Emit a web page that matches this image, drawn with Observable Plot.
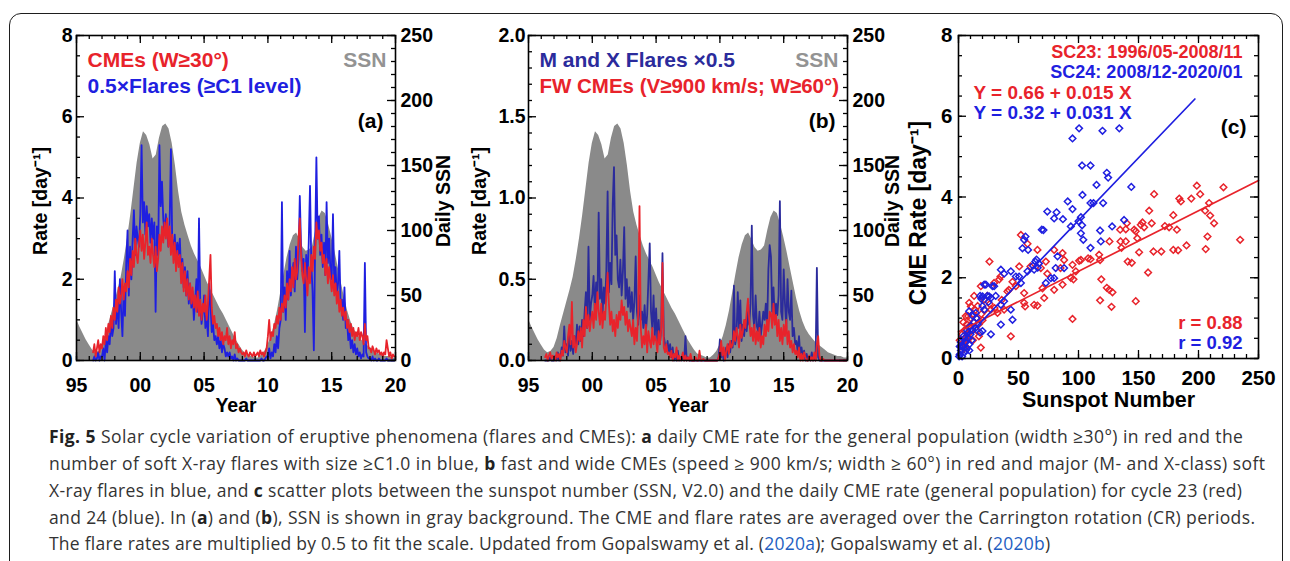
<!DOCTYPE html>
<html><head><meta charset="utf-8">
<script src="https://cdn.jsdelivr.net/npm/d3@7"></script>
<script src="https://cdn.jsdelivr.net/npm/@observablehq/plot@0.6"></script>
<style>
html,body{margin:0;padding:0;background:#fff;}
#fig{position:relative;width:1290px;height:561px;overflow:hidden;background:#fff;}
#border{position:absolute;left:9px;top:13px;width:1274px;height:620px;border:1.6px solid #1e1e1e;border-radius:12px;box-sizing:border-box;}
.panel{position:absolute;top:0;}
.panel svg{overflow:visible;max-width:none;}
.cap{position:absolute;left:49px;white-space:nowrap;font-family:"Open Sans","Noto Sans",sans-serif;font-size:17.5px;line-height:20px;color:#333;}
.cap b{font-weight:700;color:#222;}
.cap .lk{color:#1f5fc2;}
</style></head><body>
<div id="fig"><div id="border"></div>
<div id="pa" class="panel" style="left:0px"></div>
<div id="pb" class="panel" style="left:440px"></div>
<div id="pc" class="panel" style="left:890px"></div>
<div id="caption"></div>
</div>
<script>
// ---------------- DATA ----------------
// Daily sunspot number (SSN, V2.0), smoothed, every 0.25 yr from 1995.0
const ssnStart = 1995.0, ssnStep = 0.25;
const ssn = [
 32,26,21,16, 12,8,6,7, 10,17,27,36, 45,54,64,78, 94,112,132,152,
 167,176,173,166, 155,158,171,180, 182,178,167,150, 130,114,104,96, 88,82,77,72,
 66,60,55,50, 45,40,36,31, 26,21,16,12, 8,5,4,3, 2,2,4,7,
 12,18,27,38, 52,66,79,89, 96,98,93,87, 84,85,88,100, 110,115,113,105,
 95,84,72,60, 48,38,30,24, 20,17,14,12, 10,8,6,5, 4,3,3,2, 2
];
// CR-averaged rates, every 0.1 yr from 1996.3
const rateStart = 1996.3, rateStep = 0.1;
// (a) CME rate, W >= 30 deg
const cmeA = [
 0.2,0.4,0.1,0.3,0.5,0.2,0.4,
 0.3,0.6,0.4,0.8,0.5,0.9,0.7,1.1,0.8,1.3,
 1.0,1.5,1.2,1.8,1.4,1.6,2.0,1.5,1.9,1.7,
 2.2,1.8,2.5,2.1,2.7,2.3,3.0,2.6,2.4,2.9,
 3.2,2.7,3.1,2.5,2.9,3.4,2.6,2.8,2.4,3.0,
 2.6,2.3,2.8,2.2,2.5,3.1,2.7,3.3,2.9,3.4,
 3.0,3.5,2.8,3.3,2.6,3.1,2.4,2.9,2.2,2.7,
 2.3,2.6,1.9,2.4,1.7,2.2,1.6,2.0,1.5,1.9,
 1.4,1.8,1.3,1.6,1.2,1.7,1.1,1.5,1.0,1.4,
 1.2,1.6,1.0,1.4,2.0,2.6,1.3,0.9,1.1,0.8,
 0.9,0.6,0.8,0.5,0.7,0.4,0.6,0.5,0.8,0.4,
 0.6,0.3,0.5,0.4,0.7,0.3,0.4,0.2,0.3,0.2,
 0.15,0.2,0.1,0.25,0.15,0.1,0.2,0.15,0.1,0.2,
 0.1,0.15,0.2,0.1,0.25,0.15,0.2,0.1,0.2,0.3,
 0.6,1.0,0.5,0.7,0.6,0.9,0.8,1.1,0.9,1.3,
 1.0,1.4,1.2,1.6,1.3,1.9,1.5,2.0,1.7,2.3,
 1.8,2.5,2.0,2.2,3.0,3.5,2.6,2.1,1.9,2.4,
 2.0,1.6,2.3,1.9,2.6,2.2,2.8,2.5,3.4,3.0,
 3.2,2.7,2.9,2.4,2.6,2.1,2.5,1.9,2.3,2.0,
 1.7,2.1,1.6,1.9,1.4,1.7,1.2,1.5,1.1,1.3,
 1.0,1.2,0.8,1.0,0.7,0.9,0.6,0.8,0.5,0.7,
 0.6,0.8,0.5,0.7,0.6,0.4,0.9,0.5,0.6,0.3,
 0.3,0.2,0.35,0.25,0.15,0.3,0.2,0.25,0.15,0.2,
 0.1,0.2,0.15,0.5,0.3,0.1,0.2,0.05,0.15,0.1
];
// (a) 0.5 x flare rate (>= C1 level)
const flareA = [
 0.0,0.1,0.0,0.05,0.2,0.0,0.1,
 0.1,0.3,0.0,0.5,0.2,0.6,0.4,1.0,0.6,0.8,
 2.2,0.9,1.5,0.8,2.0,1.2,0.6,1.8,1.1,2.4,
 3.2,1.6,2.8,2.0,3.0,3.7,2.6,3.3,3.0,2.8,
 3.6,5.3,3.4,3.9,3.1,3.8,3.3,3.6,2.9,3.5,
 3.0,3.4,1.2,3.3,2.6,5.3,3.8,4.4,3.5,3.1,
 3.6,3.2,2.8,3.4,5.2,3.0,2.7,3.1,2.5,2.9,
 2.6,3.0,2.1,2.5,1.8,2.3,1.6,2.2,1.4,1.9,
 1.3,1.7,1.0,1.5,2.0,1.2,3.5,1.4,0.9,1.2,
 1.6,0.8,1.1,0.6,1.9,1.4,0.7,0.9,0.5,0.6,
 0.4,0.6,0.3,0.5,0.2,0.4,0.3,0.1,0.2,0.1,
 0.2,0.05,0.1,0.0,0.15,0.0,0.05,0.0,0.0,0.0,
 0,0,0,0.05,0,0,0,0,0,0,
 0,0,0,0,0,0.05,0,0,0.05,0.1,
 0.1,0.3,0.05,0.2,0.1,0.4,0.2,0.6,0.3,0.8,
 1.0,3.9,1.2,1.8,1.0,2.2,1.5,2.7,1.6,2.1,
 2.4,1.7,2.8,2.0,2.5,4.05,2.8,2.2,2.5,0.7,
 2.6,2.0,2.9,4.3,2.4,1.7,0.25,2.8,5.0,3.0,
 3.55,2.6,3.1,2.3,2.9,2.1,3.9,2.4,3.0,2.2,
 2.0,3.6,1.9,2.3,1.6,1.9,2.7,1.3,1.5,1.0,
 1.8,0.8,1.0,0.5,0.7,0.3,0.5,0.2,0.4,0.15,
 0.3,0.1,0.2,0.05,0.15,0.1,2.4,0.2,0.1,0.05,
 0.05,0,0.1,0,0.05,0,0,0.05,0,0,
 0,0,0,0.05,0,0,0,0,0,0
];
// (b) 0.5 x M- and X-class flare rate
const flareB = [
 0,0,0,0,0.02,0,0,
 0,0.03,0,0.05,0,0.02,0.08,0.03,0.21,0.05,
 0.1,0.03,0.18,0.06,0.12,0.04,0.15,0.08,0.22,0.1,
 0.21,0.12,0.25,0.15,0.3,0.42,0.2,0.7,0.25,0.35,
 0.4,0.52,0.3,0.48,0.35,0.91,0.38,0.5,0.28,0.45,
 0.35,0.55,1.04,0.42,0.6,0.47,0.96,1.19,0.65,0.77,
 0.5,0.45,0.62,0.4,0.55,0.82,0.38,0.5,0.33,0.45,
 0.3,0.42,0.25,0.36,0.64,0.3,0.22,0.4,0.25,0.3,
 0.2,0.34,0.18,0.28,0.5,0.72,0.3,0.2,0.4,0.15,
 0.32,0.12,0.25,0.1,0.2,0.66,0.15,0.1,0.06,0.12,
 0.05,0.1,0.02,0.08,0.0,0.04,0.0,0.06,0.0,0.02,
 0,0.03,0,0.15,0.0,0.02,0,0,0,0,
 0,0,0,0,0,0,0,0,0,0,
 0,0,0,0,0,0,0,0,0,0.02,
 0.13,0.02,0.05,0,0.04,0.08,0.02,0.1,0.05,0.12,
 0.08,0.46,0.1,0.15,0.42,0.2,0.37,0.12,0.22,0.15,
 0.25,0.18,0.3,0.22,0.35,0.83,0.28,0.2,0.4,0.21,
 0.18,0.3,0.15,0.22,0.3,0.25,0.35,0.2,0.56,0.71,
 0.64,0.3,0.45,0.25,0.35,0.28,0.4,0.98,0.3,0.25,
 0.56,0.35,0.2,0.5,0.3,0.25,0.43,0.15,0.2,0.1,
 0.12,0.05,0.15,0.03,0.08,0.02,0.06,0.0,0.04,0.0,
 0.02,0,0.05,0,0.02,0,0.57,0.02,0,0,
 0,0,0,0,0,0,0,0,0,0,
 0,0,0,0,0,0,0,0,0,0
];
// (b) fast and wide CME rate (V >= 900 km/s, W >= 60 deg)
const fwcmeB = [
 0.02,0.04,0.0,0.03,0.05,0.01,0.03,
 0.02,0.0,0.05,0.02,0.04,0.0,0.06,0.03,0.12,0.08,
 0.05,0.15,0.22,0.1,0.36,0.08,0.15,0.05,0.1,0.18,
 0.12,0.2,0.08,0.25,0.15,0.33,0.2,0.28,0.18,0.25,
 0.3,0.2,0.35,0.25,0.42,0.3,0.22,0.35,0.2,0.3,
 0.25,0.4,0.54,0.35,0.22,0.3,0.18,0.25,0.15,0.28,
 0.2,0.3,0.25,0.37,0.28,0.33,0.22,0.3,0.18,0.25,
 0.2,0.15,0.25,0.1,0.2,0.12,0.3,0.95,0.2,0.08,
 0.15,0.1,0.22,0.05,0.18,0.12,0.08,0.2,0.1,0.15,
 0.12,0.05,0.18,0.1,0.2,0.6,0.08,0.05,0.1,0.04,
 0.05,0.02,0.06,0.0,0.04,0.02,0.08,0.0,0.03,0.0,
 0.02,0.05,0.0,0.03,0.0,0.02,0.0,0.04,0,0,
 0,0.02,0,0,0.06,0,0,0.01,0,0,
 0,0,0,0,0,0,0,0,0,0.02,
 0.05,0.12,0.03,0.08,0.0,0.06,0.1,0.04,0.12,0.08,
 0.1,0.18,0.12,0.2,0.15,0.08,0.22,0.14,0.18,0.25,
 0.2,0.3,0.38,0.25,0.15,0.2,0.12,0.22,0.1,0.18,
 0.12,0.2,0.08,0.15,0.1,0.22,0.15,0.25,0.18,0.3,
 0.29,0.2,0.35,0.22,0.28,0.15,0.25,0.12,0.2,0.1,
 0.22,0.15,0.25,0.1,0.18,0.08,0.12,0.05,0.1,0.04,
 0.06,0.02,0.08,0.0,0.04,0.0,0.05,0.02,0.0,0.0,
 0.03,0,0.02,0,0.05,0,0.1,0.15,0.03,0,
 0,0.01,0,0,0,0,0,0,0,0,
 0,0,0,0,0,0,0,0,0,0
];
// (c) scatter: [SSN, CME rate] per CR
const sc23 = [
 [163,4.07],[198.6,4.28],[201.4,4.07],[220.8,4.24],[184,3.96],[185.3,3.89],[194,3.96],[208.8,3.85],[205.5,3.66],[209.7,3.54],
 [213,3.35],[207.5,3.02],[206,2.71],[234.7,2.94],[158.9,3.66],[179,3.55],[172,3.28],[175.5,3.25],[182,3.19],[161,3.35],
 [153.3,3.37],[154.7,3.25],[151.9,3.31],[146.4,3.19],[147.7,3.15],[149,2.98],[139.4,3.2],[140.3,3.35],[134.7,3.19],[139.4,2.9],
 [135.8,2.74],[125.8,2.9],[141,2.4],[144.4,2.37],[150.5,2.63],[162.5,2.65],[169,2.65],[179,2.69],[183,2.68],[190,2.8],
 [158,2.13],[117.2,2.57],[118,2.44],[119,1.96],[123.6,1.75],[128.3,1.64],[118,1.44],[127.5,1.28],[147.7,1.42],[135,2.9],
 [43.6,0.55],[95,0.98],[25.8,2.4],[52,3.06],[57.5,2.84],[50.6,2.28],[65.8,2.69],[60,2.28],[68.6,2.24],[72.8,2.4],
 [74,2.1],[85,2.24],[86.7,2.61],[88,2.44],[79.7,2.69],[86.7,1.83],[70,1.74],[93.6,2.0],[95,2.32],[97.8,2.16],
 [102,2.44],[108,2.48],[47.8,1.79],[40.8,1.66],[54.7,1.38],[55.5,1.29],[63,1.33],[65.8,1.31],[54.7,1.62],[71.4,1.5],
 [79.7,1.7],[35,2.03],[34,1.96],[29.7,1.87],[18.6,1.79],[21.4,1.46],[24,1.55],[13,1.55],[10.3,1.29],[8.9,1.38],
 [6,1.05],[27,1.21],[17,0.55],[18.6,0.27],[32.5,1.13],[38,1.21],[125.6,1.7],[110,2.46],[100.5,2.42],[95.8,1.96],
 [1,0.45],[2,0.3],[3,0.6],[4,0.4],[5,0.7],[6,0.5],[7,0.85],[8,0.6],[9,0.8],[10,1.0],
 [11,0.7],[12,1.1],[13,0.9],[14,1.2],[15,1.0],[16,1.3],[17,0.85],[19,1.1],[3,0.2],[6,0.3],
 [9,0.5],[12,0.45],[15,0.7],[20,0.95],[22,1.2],[26,1.35],[30,1.25],[4,0.9],[8,1.05],[36,1.45],[42,1.7],[45,1.9]
];
const sc24 = [
 [95,5.45],[100.5,5.7],[120,5.64],[134,5.7],[103,4.78],[110,4.78],[123.6,4.6],[124.7,4.48],[115,4.3],[103.3,4.05],
 [144,4.25],[91,3.89],[95,3.7],[110,3.85],[112.5,3.85],[120.5,3.85],[81.7,3.62],[87,3.45],[100,3.4],[102,3.5],
 [103,3.3],[138,3.43],[70.8,3.18],[118,3.17],[128,3.27],[93.6,3.27],[55.8,3.02],[54.7,2.94],[102,3.1],[104,2.94],
 [118.6,2.9],[110,2.74],[82.5,2.53],[58,2.69],[62,2.3],[64,2.4],[66,2.25],[67,2.35],[63,2.2],[65,2.45],
 [81,2.24],[77,1.99],[79.7,1.99],[57.5,2.16],[52,1.87],[38,2.1],[22.8,1.83],[29.7,1.79],[18,1.55],[19,1.48],
 [24,1.55],[27,1.5],[31,1.55],[38,1.42],[43.6,1.21],[35.3,0.84],[45,0.96],[21.4,1.21],[14.4,1.13],[18,0.64],
 [20,0.68],[27,0.6],[74,3.64],[79.7,3.47],[69.4,3.19],[53.3,2.73],[43.6,2.16],[35.3,2.2],[47.8,2.03],[50.5,2.03],
 [88,2.24],[72.8,1.87],[21.4,1.83],[28.3,1.79],[20,1.54],[25.5,1.54],[35.3,1.33],[8.9,1.17],
 [1,0.1],[2,0.2],[3,0.05],[4,0.3],[5,0.15],[6,0.4],[7,0.25],[8,0.5],[9,0.35],[10,0.6],
 [11,0.45],[12,0.7],[2,0.4],[4,0.55],[6,0.2],[8,0.65],[10,0.8],[13,0.9],[15,1.0],[3,0.3],
 [5,0.5],[7,0.7],[9,0.2],[1,0.3],[14,0.75],[16,0.85],[0.5,0.05],[12,1.05],[20,1.3],[25,1.4]
];
// linear fits Y = a + b X over the SSN range of each cycle
const fitA = [0.66, 0.32];
const fitB = [0.015, 0.031];
const fitXmax = [250, 197];
const fitR = ["0.88", "0.92"];
const cycleLabels = ["SC23: 1996/05-2008/11", "SC24: 2008/12-2020/01"];
// tick labels
const yearTicks = [1995, 2000, 2005, 2010, 2015, 2020];
const yearTickLabels = ["95", "00", "05", "10", "15", "20"];
const rateTicksA = [0, 2, 4, 6, 8];
const rateTicksB = [0, 0.5, 1, 1.5, 2];
const rateTickLabelsB = ["0.0", "0.5", "1.0", "1.5", "2.0"];
const ssnTicks = [0, 50, 100, 150, 200, 250];
const captionLines = [
 '<b>Fig. 5</b> Solar cycle variation of eruptive phenomena (flares and CMEs): <b>a</b> daily CME rate for the general population (width ≥30°) in red and the',
 'number of soft X-ray flares with size ≥C1.0 in blue, <b>b</b> fast and wide CMEs (speed ≥ 900 km/s; width ≥ 60°) in red and major (M- and X-class) soft',
 'X-ray flares in blue, and <b>c</b> scatter plots between the sunspot number (SSN, V2.0) and the daily CME rate (general population) for cycle 23 (red)',
 'and 24 (blue). In (<b>a</b>) and (<b>b</b>), SSN is shown in gray background. The CME and flare rates are averaged over the Carrington rotation (CR) periods.',
 'The flare rates are multiplied by 0.5 to fit the scale. Updated from Gopalswamy et al. (<span class="lk">2020a</span>); Gopalswamy et al. (<span class="lk">2020b</span>)'
];

// ---------------- STYLE ----------------
const RED = "#e8232b", BLUE = "#1f1fe0", NAVY = "#2b2b9c", GRAY = "#8a8a8a", SSNTXT = "#939393";
const FONT = "'Liberation Sans', Arial, Helvetica, sans-serif";
const H = 420, MT = 35;

const seq = (arr, start, step) => arr.map((v, i) => ({t: start + i * step, v}));
const rng = (a, b, s) => d3.range(Math.round((b - a) / s) + 1).map(i => +(a + i * s).toFixed(6));

function frameTicks({xMaj, xMin, yMaj, yMin, yRMaj, yRMin, iw, ih}) {
  const LM = 8, Lm = 4, st = {stroke: "#000", strokeWidth: 1.3};
  return [
    Plot.ruleX(xMaj, {x: d => d, insetTop: ih - LM, ...st}),
    Plot.ruleX(xMin, {x: d => d, insetTop: ih - Lm, ...st}),
    Plot.ruleX(xMaj, {x: d => d, insetBottom: ih - LM, ...st}),
    Plot.ruleX(xMin, {x: d => d, insetBottom: ih - Lm, ...st}),
    Plot.ruleY(yMaj, {y: d => d, insetRight: iw - LM, ...st}),
    Plot.ruleY(yMin, {y: d => d, insetRight: iw - Lm, ...st}),
    Plot.ruleY(yRMaj, {y: d => d, insetLeft: iw - LM, ...st}),
    Plot.ruleY(yRMin, {y: d => d, insetLeft: iw - Lm, ...st})
  ];
}
const label = (t, o) => Plot.text([t], {text: d => d, ...o});
const baseStyle = {fontFamily: FONT, fontSize: "19.5px", fontWeight: "bold", color: "#000", background: "transparent", overflow: "visible"};

function timePanel({width, ml, mr, yMax, yTicks, yTickFmt, yMin, lpad, blue, red, blueColor, legend1, legend2, c1, c2, fs2, tag, rateDx, ssnDx}) {
  const k = yMax / 250;
  const iw = width - ml - mr, ih = H - MT - 60;
  return Plot.plot({
    width, height: H, marginLeft: ml, marginRight: mr, marginTop: MT, marginBottom: 60,
    x: {domain: [1995, 2020]}, y: {domain: [0, yMax]},
    style: baseStyle,
    marks: [
      Plot.areaY(seq(ssn, ssnStart, ssnStep), {x: "t", y: d => d.v * k, fill: GRAY}),
      Plot.lineY(seq(blue, rateStart, rateStep), {x: "t", y: "v", stroke: blueColor, strokeWidth: 1.8}),
      Plot.lineY(seq(red, rateStart, rateStep), {x: "t", y: "v", stroke: RED, strokeWidth: 1.8}),
      ...frameTicks({xMaj: yearTicks, xMin: rng(1995, 2020, 1), yMaj: yTicks, yMin: rng(0, yMax, yMin),
        yRMaj: ssnTicks.map(v => v * k), yRMin: rng(0, 250, 10).map(v => v * k), iw, ih}),
      Plot.frame({stroke: "#000", strokeWidth: 1.6}),
      Plot.axisX(yearTicks, {tickSize: 0, tickPadding: 18, label: null, tickFormat: d => yearTickLabels[yearTicks.indexOf(d)]}),
      Plot.axisY(yTicks, {anchor: "left", tickSize: 0, tickPadding: lpad, label: null, tickFormat: yTickFmt}),
      Plot.axisY(ssnTicks.map(v => v * k), {anchor: "right", tickSize: 0, tickPadding: 5, label: null, tickFormat: d => String(Math.round(d / k))}),
      label("Year", {frameAnchor: "bottom", dy: 51, lineAnchor: "bottom"}),
      label("Rate [day⁻¹]", {frameAnchor: "left", dx: rateDx, dy: 3, rotate: -90, textAnchor: "middle", lineAnchor: "middle"}),
      label("Daily SSN", {frameAnchor: "right", dx: ssnDx, dy: 3, rotate: -90, textAnchor: "middle", lineAnchor: "middle"}),
      label(legend1, {frameAnchor: "top-left", dx: 11, dy: 31, textAnchor: "start", lineAnchor: "bottom", fill: c1, fontSize: 21}),
      label(legend2, {frameAnchor: "top-left", dx: 11, dy: 57, textAnchor: "start", lineAnchor: "bottom", fill: c2, fontSize: fs2}),
      label("SSN", {frameAnchor: "top-right", dx: -9, dy: 31, textAnchor: "end", lineAnchor: "bottom", fill: SSNTXT, fontSize: 21}),
      label(tag, {frameAnchor: "top-right", dx: -12, dy: 92, textAnchor: "end", lineAnchor: "bottom", fontSize: 21})
    ]
  });
}

const plotA = timePanel({width: 440, ml: 76, mr: 45, yMax: 8, yTicks: rateTicksA, yTickFmt: d => String(d), yMin: 0.5, lpad: 4,
  blue: flareA, red: cmeA, blueColor: BLUE, legend1: "CMEs (W≥30°)", legend2: "0.5×Flares (≥C1 level)", c1: RED, c2: BLUE, fs2: 21, tag: "(a)", rateDx: -36, ssnDx: 48});
const plotB = timePanel({width: 450, ml: 88, mr: 43, yMax: 2, yTicks: rateTicksB, yTickFmt: d => rateTickLabelsB[rateTicksB.indexOf(d)], yMin: 0.1, lpad: 3,
  blue: flareB, red: fwcmeB, blueColor: NAVY, legend1: "M and X Flares ×0.5", legend2: "FW CMEs (V≥900 km/s; W≥60°)", c1: NAVY, c2: RED, fs2: 20.5, tag: "(b)", rateDx: -49, ssnDx: 45});

// panel (c)
const fitLines = [0, 1].map(i => [{x: 0, y: fitA[i]}, {x: fitXmax[i], y: fitA[i] + fitB[i] * fitXmax[i]}]);
const fitText = i => `Y = ${fitA[i].toFixed(2)} + ${fitB[i].toFixed(3)} X`;
const ihC = H - MT - 62, iwC = 400 - 68 - 32;
const plotC = Plot.plot({
  width: 400, height: H, marginLeft: 68, marginRight: 32, marginTop: MT, marginBottom: 62,
  x: {domain: [0, 250]}, y: {domain: [0, 8]},
  style: {...baseStyle, fontSize: "20.5px"},
  marks: [
    Plot.dot(sc23, {x: d => d[0], y: d => d[1], symbol: "diamond2", r: 3, stroke: RED, strokeWidth: 1.5}),
    Plot.dot(sc24, {x: d => d[0], y: d => d[1], symbol: "diamond2", r: 3, stroke: BLUE, strokeWidth: 1.5}),
    Plot.line(fitLines[0], {x: "x", y: "y", stroke: RED, strokeWidth: 1.7}),
    Plot.line(fitLines[1], {x: "x", y: "y", stroke: BLUE, strokeWidth: 1.7}),
    ...frameTicks({xMaj: ssnTicks, xMin: rng(0, 250, 10), yMaj: rateTicksA, yMin: rng(0, 8, 0.5), yRMaj: rateTicksA, yRMin: rng(0, 8, 0.5), iw: iwC, ih: ihC}),
    Plot.frame({stroke: "#000", strokeWidth: 1.6}),
    Plot.axisX(ssnTicks, {tickSize: 0, tickPadding: 12, label: null}),
    Plot.axisY(rateTicksA, {anchor: "left", tickSize: 0, tickPadding: 6, label: null}),
    label("Sunspot Number", {frameAnchor: "bottom", dy: 48, lineAnchor: "bottom", fontSize: 21.5}),
    label("CME Rate [day⁻¹]", {frameAnchor: "left", dx: -40, dy: 16, rotate: -90, textAnchor: "middle", lineAnchor: "middle", fontSize: 23}),
    label(cycleLabels[0], {frameAnchor: "top-right", dx: -16, dy: 22.5, textAnchor: "end", lineAnchor: "bottom", fill: RED, fontSize: 18}),
    label(cycleLabels[1], {frameAnchor: "top-right", dx: -16, dy: 42.5, textAnchor: "end", lineAnchor: "bottom", fill: BLUE, fontSize: 18}),
    label(fitText(0), {frameAnchor: "top-left", dx: 15, dy: 63, textAnchor: "start", lineAnchor: "bottom", fill: RED, fontSize: 19}),
    label(fitText(1), {frameAnchor: "top-left", dx: 15, dy: 83, textAnchor: "start", lineAnchor: "bottom", fill: BLUE, fontSize: 19}),
    label("(c)", {frameAnchor: "top-right", dx: -12, dy: 98, textAnchor: "end", lineAnchor: "bottom", fontSize: 21}),
    label(`r = ${fitR[0]}`, {frameAnchor: "bottom-right", dx: -16, dy: -30, textAnchor: "end", lineAnchor: "bottom", fill: RED, fontSize: 18.5}),
    label(`r = ${fitR[1]}`, {frameAnchor: "bottom-right", dx: -16, dy: -10, textAnchor: "end", lineAnchor: "bottom", fill: BLUE, fontSize: 18.5})
  ]
});

document.getElementById("pa").append(plotA);
document.getElementById("pb").append(plotB);
document.getElementById("pc").append(plotC);

// caption: five lines, each stretched to the line end seen in the figure
const capBaselines = [443, 470, 497, 524, 550];
const capEnds = [1243, 1265, 1242, 1255, 1050];
const cap = document.getElementById("caption");
captionLines.forEach((html, i) => {
  const d = document.createElement("div");
  d.className = "cap";
  d.innerHTML = html;
  d.style.top = (capBaselines[i] - 16.8) + "px";
  cap.append(d);
  const w = d.getBoundingClientRect().width;
  const n = d.textContent.length;
  const target = capEnds[i] - 49;
  d.style.letterSpacing = ((target - w) / (n - 1)).toFixed(3) + "px";
});
</script>
</body></html>
